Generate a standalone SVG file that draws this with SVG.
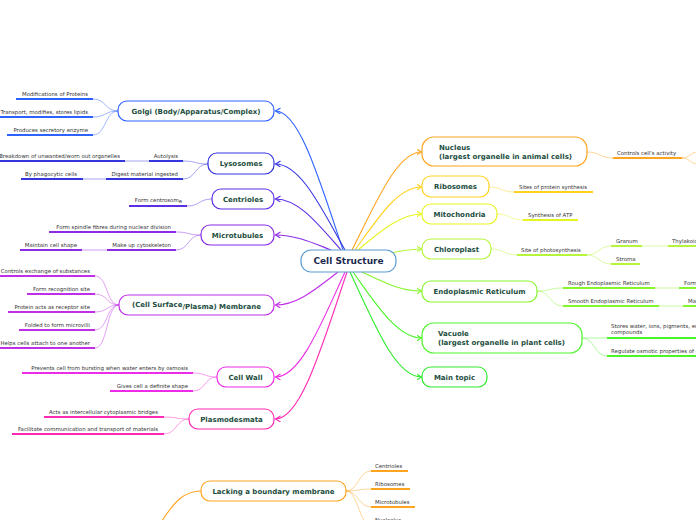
<svg xmlns="http://www.w3.org/2000/svg" width="696" height="520" viewBox="0 0 696 520">
<style>
.bg{fill:#fff}
.nd{fill:#fff;stroke-width:1.2}
.t{font-family:"DejaVu Sans",Verdana,sans-serif;font-weight:bold;font-size:7px;fill:#1b4d3e;text-anchor:middle}
.tl{font-family:"DejaVu Sans",Verdana,sans-serif;font-weight:bold;font-size:7px;fill:#1b4d3e}
.s{font-family:"DejaVu Sans",Verdana,sans-serif;font-size:5.4px;fill:#333}
.e{text-anchor:end}
.u{stroke-width:2;fill:none}
.c{fill:none;stroke-width:1.1}
.lc{fill:none;stroke-width:1;stroke-opacity:.45}
</style>
<defs>
<marker id="a1" markerUnits="userSpaceOnUse" markerWidth="8" markerHeight="8" refX="5" refY="3" orient="auto"><path d="M0,0 L5,3 L0,6" fill="none" stroke="#2d62ff" stroke-width="1.1"/></marker>
<marker id="a2" markerUnits="userSpaceOnUse" markerWidth="8" markerHeight="8" refX="5" refY="3" orient="auto"><path d="M0,0 L5,3 L0,6" fill="none" stroke="#3535e0" stroke-width="1.1"/></marker>
<marker id="a3" markerUnits="userSpaceOnUse" markerWidth="8" markerHeight="8" refX="5" refY="3" orient="auto"><path d="M0,0 L5,3 L0,6" fill="none" stroke="#5c2ee6" stroke-width="1.1"/></marker>
<marker id="a4" markerUnits="userSpaceOnUse" markerWidth="8" markerHeight="8" refX="5" refY="3" orient="auto"><path d="M0,0 L5,3 L0,6" fill="none" stroke="#8a2be6" stroke-width="1.1"/></marker>
<marker id="a5" markerUnits="userSpaceOnUse" markerWidth="8" markerHeight="8" refX="5" refY="3" orient="auto"><path d="M0,0 L5,3 L0,6" fill="none" stroke="#c02ee8" stroke-width="1.1"/></marker>
<marker id="a6" markerUnits="userSpaceOnUse" markerWidth="8" markerHeight="8" refX="5" refY="3" orient="auto"><path d="M0,0 L5,3 L0,6" fill="none" stroke="#ee2be6" stroke-width="1.1"/></marker>
<marker id="a7" markerUnits="userSpaceOnUse" markerWidth="8" markerHeight="8" refX="5" refY="3" orient="auto"><path d="M0,0 L5,3 L0,6" fill="none" stroke="#ff2bb4" stroke-width="1.1"/></marker>
<marker id="a8" markerUnits="userSpaceOnUse" markerWidth="8" markerHeight="8" refX="5" refY="3" orient="auto"><path d="M0,0 L5,3 L0,6" fill="none" stroke="#ffa41f" stroke-width="1.1"/></marker>
<marker id="a9" markerUnits="userSpaceOnUse" markerWidth="8" markerHeight="8" refX="5" refY="3" orient="auto"><path d="M0,0 L5,3 L0,6" fill="none" stroke="#ffd21f" stroke-width="1.1"/></marker>
<marker id="a10" markerUnits="userSpaceOnUse" markerWidth="8" markerHeight="8" refX="5" refY="3" orient="auto"><path d="M0,0 L5,3 L0,6" fill="none" stroke="#e6f51f" stroke-width="1.1"/></marker>
<marker id="a11" markerUnits="userSpaceOnUse" markerWidth="8" markerHeight="8" refX="5" refY="3" orient="auto"><path d="M0,0 L5,3 L0,6" fill="none" stroke="#b6f53a" stroke-width="1.1"/></marker>
<marker id="a12" markerUnits="userSpaceOnUse" markerWidth="8" markerHeight="8" refX="5" refY="3" orient="auto"><path d="M0,0 L5,3 L0,6" fill="none" stroke="#86f52a" stroke-width="1.1"/></marker>
<marker id="a13" markerUnits="userSpaceOnUse" markerWidth="8" markerHeight="8" refX="5" refY="3" orient="auto"><path d="M0,0 L5,3 L0,6" fill="none" stroke="#4cf52a" stroke-width="1.1"/></marker>
<marker id="a14" markerUnits="userSpaceOnUse" markerWidth="8" markerHeight="8" refX="5" refY="3" orient="auto"><path d="M0,0 L5,3 L0,6" fill="none" stroke="#2eea2e" stroke-width="1.1"/></marker>
</defs>
<rect class="bg" x="0" y="0" width="696" height="520"/>

<g id="connectors">
<!-- main branches -->
<path class="c" stroke="#2d62ff" marker-end="url(#a1)" d="M343,250 C319.6,180.5 299.5,111 275.5,111"/>
<path class="c" stroke="#3535e0" marker-end="url(#a2)" d="M345,250 C320.9,207 300.2,164 275.5,164"/>
<path class="c" stroke="#5c2ee6" marker-end="url(#a3)" d="M341,250 C318.3,224.5 298.8,199 275.5,199"/>
<path class="c" stroke="#8a2be6" marker-end="url(#a4)" d="M331,250 C311.8,242.5 295.2,235 275.5,235"/>
<path class="c" stroke="#c02ee8" marker-end="url(#a5)" d="M338,272 C316.3,288.5 297.7,305 275.5,305"/>
<path class="c" stroke="#ee2be6" marker-end="url(#a6)" d="M345,272 C320.9,324.5 300.2,377 275.5,377"/>
<path class="c" stroke="#ff2bb4" marker-end="url(#a7)" d="M347,272 C322.2,345.5 300.9,419 275.5,419"/>
<path class="c" stroke="#ffa41f" marker-end="url(#a8)" d="M352,250 C376.8,201 397.2,152 421.5,152"/>
<path class="c" stroke="#ffd21f" marker-end="url(#a9)" d="M355,250 C377.8,218.5 397.3,187 421.5,187"/>
<path class="c" stroke="#e6f51f" marker-end="url(#a10)" d="M358,250 C379.7,232 400.3,214 421.5,214"/>
<path class="c" stroke="#b6f53a" marker-end="url(#a11)" d="M390,253 C402,251 410,249 421.5,249"/>
<path class="c" stroke="#86f52a" marker-end="url(#a12)" d="M362,272 C382.3,281.5 399.7,291 421.5,291"/>
<path class="c" stroke="#4cf52a" marker-end="url(#a13)" d="M353,272 C376.5,305 397.6,338 421.5,338"/>
<path class="c" stroke="#2eea2e" marker-end="url(#a14)" d="M350,272 C374.5,324.5 395.5,377 421.5,377"/>
<path class="c" stroke="#ffa41f" d="M160,524 C175,500 185,491 201,491"/>
<!-- Golgi subs -->
<path class="lc" stroke="#2d62ff" d="M118,111 C105,111 106,99 93,99"/>
<path class="lc" stroke="#2d62ff" d="M118,111 C105,111 106,117 93,117"/>
<path class="lc" stroke="#2d62ff" d="M118,111 C105,111 106,135 93,135"/>
<!-- Lysosomes subs -->
<path class="lc" stroke="#3535e0" d="M208,164 C195,164 196,161 183,161"/>
<path class="lc" stroke="#3535e0" d="M208,164 C195,164 196,179 183,179"/>
<path class="lc" stroke="#3535e0" d="M149,161 L125,161"/>
<path class="lc" stroke="#3535e0" d="M106,179 L83,179"/>
<!-- Centrioles -->
<path class="lc" stroke="#5c2ee6" d="M212,199 C199,199 200,206 187,206"/>
<!-- Microtubules -->
<path class="lc" stroke="#8a2be6" d="M201,235 C188,235 189,232 176,232"/>
<path class="lc" stroke="#8a2be6" d="M201,235 C188,235 189,250 176,250"/>
<path class="lc" stroke="#8a2be6" d="M107,250 L82,250"/>
<!-- Membrane -->
<path class="lc" stroke="#c02ee8" d="M119,305 C106,305 108,276 95,276"/>
<path class="lc" stroke="#c02ee8" d="M119,305 C106,305 108,294 95,294"/>
<path class="lc" stroke="#c02ee8" d="M119,305 C106,305 108,312 95,312"/>
<path class="lc" stroke="#c02ee8" d="M119,305 C106,305 108,330 95,330"/>
<path class="lc" stroke="#c02ee8" d="M119,305 C106,305 108,348 95,348"/>
<!-- Cell wall -->
<path class="lc" stroke="#ee2be6" d="M217,377 C204,377 206,373 193,373"/>
<path class="lc" stroke="#ee2be6" d="M217,377 C204,377 206,391 193,391"/>
<!-- Plasmodesmata -->
<path class="lc" stroke="#ff2bb4" d="M189,419 C176,419 177,417 164,417"/>
<path class="lc" stroke="#ff2bb4" d="M189,419 C176,419 177,434 164,434"/>
<!-- Nucleus -->
<path class="lc" stroke="#ffa41f" d="M587,152 C600,152 600,158 613,158"/>
<path class="lc" stroke="#ffa41f" d="M682,158 C690,158 690,152 698,152"/>
<path class="lc" stroke="#ffa41f" d="M682,158 C690,158 690,164 698,164"/>
<!-- Ribosomes -->
<path class="lc" stroke="#ffd21f" d="M489,187 C501,187 502,192 514,192"/>
<!-- Mitochondria -->
<path class="lc" stroke="#e6f51f" d="M497,214 C510,214 510,220 523,220"/>
<!-- Chloroplast -->
<path class="lc" stroke="#b6f53a" d="M491,249 C504,249 504,255 517,255"/>
<path class="lc" stroke="#b6f53a" d="M587,255 C599,255 599,246 611,246"/>
<path class="lc" stroke="#b6f53a" d="M587,255 C599,255 599,264 611,264"/>
<path class="lc" stroke="#b6f53a" d="M642,246 L668,246"/>
<!-- ER -->
<path class="lc" stroke="#86f52a" d="M537,291 C550,291 550,288 563,288"/>
<path class="lc" stroke="#86f52a" d="M537,291 C550,291 550,306 563,306"/>
<path class="lc" stroke="#86f52a" d="M655,288 L679,288"/>
<path class="lc" stroke="#86f52a" d="M659,306 L683,306"/>
<!-- Vacuole -->
<path class="lc" stroke="#4cf52a" d="M582,338 L607,338"/>
<path class="lc" stroke="#4cf52a" d="M582,338 C595,338 594,356 607,356"/>
<!-- Lacking -->
<path class="lc" stroke="#ffa41f" d="M346,491 C358,491 359,471 371,471"/>
<path class="lc" stroke="#ffa41f" d="M346,491 C358,491 359,489 371,489"/>
<path class="lc" stroke="#ffa41f" d="M346,491 C358,491 359,507 371,507"/>
<path class="lc" stroke="#ffa41f" d="M346,491 C358,491 359,525 371,525"/>
</g>

<g id="cell-structure">
<rect x="301" y="250" width="95" height="22" rx="10" fill="#fff" stroke="#5b9bd5" stroke-width="1.2"/>
<text x="348.5" y="264.3" font-family="DejaVu Sans, Verdana, sans-serif" font-weight="bold" font-size="9" fill="#1c2b4f" text-anchor="middle">Cell Structure</text>
</g>

<g id="golgi">
<rect class="nd" x="118" y="101" width="156" height="20" rx="9" stroke="#2d62ff"/>
<text class="t" x="196" y="113.5">Golgi (Body/Apparatus/Complex)</text>
</g>
<g id="golgi-1"><line class="u" stroke="#2d62ff" x1="16" y1="99" x2="93" y2="99"/><text class="s e" x="88" y="95.5">Modifications of Proteins</text></g>
<g id="golgi-2"><line class="u" stroke="#2d62ff" x1="0" y1="117" x2="93" y2="117"/><text class="s e" x="88" y="113.5">Transport, modifies, stores lipids</text></g>
<g id="golgi-3"><line class="u" stroke="#2d62ff" x1="7" y1="135" x2="93" y2="135"/><text class="s e" x="88" y="131.5">Produces secretory enzyme</text></g>

<g id="lysosomes">
<rect class="nd" x="208" y="153" width="66" height="21" rx="9" stroke="#3535e0"/>
<text class="t" x="241" y="166">Lysosomes</text>
</g>
<g id="lyso-1"><line class="u" stroke="#3535e0" x1="149" y1="161" x2="183" y2="161"/><text class="s e" x="178" y="157.5">Autolysis</text></g>
<g id="lyso-1-1"><line class="u" stroke="#3535e0" x1="0" y1="161" x2="125" y2="161"/><text class="s e" x="120" y="157.5">Breakdown of unwanted/worn out organelles</text></g>
<g id="lyso-2"><line class="u" stroke="#3535e0" x1="106" y1="179" x2="183" y2="179"/><text class="s e" x="178" y="175.5">Digest material ingested</text></g>
<g id="lyso-2-1"><line class="u" stroke="#3535e0" x1="21" y1="179" x2="83" y2="179"/><text class="s e" x="77" y="175.5">By phagocytic cells</text></g>

<g id="centrioles">
<rect class="nd" x="212" y="189" width="62" height="20" rx="9" stroke="#5c2ee6"/>
<text class="t" x="243" y="201.5">Centrioles</text>
</g>
<g id="centrioles-1"><line class="u" stroke="#5c2ee6" x1="129" y1="206" x2="187" y2="206"/><text class="s e" x="182" y="201.5">Form centrosom<tspan dy="1.5">e</tspan></text></g>

<g id="microtubules">
<rect class="nd" x="201" y="225" width="73" height="20" rx="9" stroke="#8a2be6"/>
<text class="t" x="237.5" y="237.5">Microtubules</text>
</g>
<g id="micro-1"><line class="u" stroke="#8a2be6" x1="49" y1="232" x2="176" y2="232"/><text class="s e" x="171" y="228.5">Form spindle fibres during nuclear division</text></g>
<g id="micro-2"><line class="u" stroke="#8a2be6" x1="107" y1="250" x2="176" y2="250"/><text class="s e" x="171" y="246.5">Make up cytoskeleton</text></g>
<g id="micro-2-1"><line class="u" stroke="#8a2be6" x1="20" y1="250" x2="82" y2="250"/><text class="s e" x="77" y="246.5">Maintain cell shape</text></g>

<g id="membrane">
<rect class="nd" x="119" y="295" width="155" height="20" rx="9" stroke="#c02ee8"/>
<text class="t" x="196.5" y="307">(Cell Surface<tspan dy="1.5">/Plasma) Membrane</tspan></text>
</g>
<g id="mem-1"><line class="u" stroke="#c02ee8" x1="0" y1="276" x2="95" y2="276"/><text class="s e" x="90" y="272.5">Controls exchange of substances</text></g>
<g id="mem-2"><line class="u" stroke="#c02ee8" x1="27" y1="294" x2="95" y2="294"/><text class="s e" x="90" y="290.5">Form recognition site</text></g>
<g id="mem-3"><line class="u" stroke="#c02ee8" x1="8" y1="312" x2="95" y2="312"/><text class="s e" x="90" y="308.5">Protein acts as receptor site</text></g>
<g id="mem-4"><line class="u" stroke="#c02ee8" x1="19" y1="330" x2="95" y2="330"/><text class="s e" x="90" y="326.5">Folded to form microvilli</text></g>
<g id="mem-5"><line class="u" stroke="#c02ee8" x1="0" y1="348" x2="95" y2="348"/><text class="s e" x="90" y="344.5">Helps cells attach to one another</text></g>

<g id="cell-wall">
<rect class="nd" x="217" y="367" width="57" height="20" rx="9" stroke="#ee2be6"/>
<text class="t" x="245.5" y="379.5">Cell Wall</text>
</g>
<g id="wall-1"><line class="u" stroke="#ee2be6" x1="22" y1="373" x2="193" y2="373"/><text class="s e" x="188" y="369.5">Prevents cell from bursting when water enters by osmosis</text></g>
<g id="wall-2"><line class="u" stroke="#ee2be6" x1="110" y1="391" x2="193" y2="391"/><text class="s e" x="188" y="387.5">Gives cell a definite shape</text></g>

<g id="plasmodesmata">
<rect class="nd" x="189" y="409" width="85" height="20" rx="9" stroke="#ff2bb4"/>
<text class="t" x="231.5" y="421.5">Plasmodesmata</text>
</g>
<g id="plasmo-1"><line class="u" stroke="#ff2bb4" x1="44" y1="417" x2="164" y2="417"/><text class="s e" x="158" y="413.5">Acts as intercellular cytoplasmic bridges</text></g>
<g id="plasmo-2"><line class="u" stroke="#ff2bb4" x1="12" y1="434" x2="164" y2="434"/><text class="s e" x="158" y="430.5">Facilitate communication and transport of materials</text></g>

<g id="nucleus">
<rect class="nd" x="422" y="137" width="165" height="29" rx="12" stroke="#ffa41f"/>
<text class="tl" x="439" y="150">Nucleus</text>
<text class="tl" x="439" y="158.5">(largest organelle in animal cells)</text>
</g>
<g id="nucleus-1"><line class="u" stroke="#ffa41f" x1="613" y1="158" x2="682" y2="158"/><text class="s" x="617" y="154.5">Controls cell's activity</text></g>

<g id="ribosomes">
<rect class="nd" x="422" y="176" width="67" height="21" rx="9" stroke="#ffd21f"/>
<text class="t" x="455.5" y="189">Ribosomes</text>
</g>
<g id="ribo-1"><line class="u" stroke="#ffd21f" x1="514" y1="192" x2="593" y2="192"/><text class="s" x="519" y="188.5">Sites of protein synthesis</text></g>

<g id="mitochondria">
<rect class="nd" x="422" y="204" width="75" height="20" rx="9" stroke="#e6f51f"/>
<text class="t" x="459.5" y="216.5">Mitochondria</text>
</g>
<g id="mito-1"><line class="u" stroke="#e6f51f" x1="523" y1="220" x2="578" y2="220"/><text class="s" x="528" y="216.5">Synthesis of ATP</text></g>

<g id="chloroplast">
<rect class="nd" x="422" y="239" width="69" height="20" rx="9" stroke="#b6f53a"/>
<text class="t" x="456.5" y="251.5">Chloroplast</text>
</g>
<g id="chloro-1"><line class="u" stroke="#b6f53a" x1="517" y1="255" x2="587" y2="255"/><text class="s" x="521" y="251.5">Site of photosynthesis</text></g>
<g id="chloro-1-1"><line class="u" stroke="#b6f53a" x1="611" y1="246" x2="642" y2="246"/><text class="s" x="616" y="242.5">Granum</text></g>
<g id="chloro-1-1-1"><line class="u" stroke="#b6f53a" x1="668" y1="246" x2="700" y2="246"/><text class="s" x="672" y="242.5">Thylakoids</text></g>
<g id="chloro-1-2"><line class="u" stroke="#b6f53a" x1="611" y1="264" x2="640" y2="264"/><text class="s" x="616" y="260.5">Stroma</text></g>

<g id="er">
<rect class="nd" x="422" y="281" width="115" height="21" rx="9" stroke="#86f52a"/>
<text class="t" x="479.5" y="294">Endoplasmic Reticulum</text>
</g>
<g id="er-1"><line class="u" stroke="#86f52a" x1="563" y1="288" x2="655" y2="288"/><text class="s" x="568" y="284.5">Rough Endoplasmic Reticulum</text></g>
<g id="er-1-1"><line class="u" stroke="#86f52a" x1="679" y1="288" x2="700" y2="288"/><text class="s" x="684" y="284.5">Form</text></g>
<g id="er-2"><line class="u" stroke="#86f52a" x1="563" y1="306" x2="659" y2="306"/><text class="s" x="568" y="302.5">Smooth Endoplasmic Reticulum</text></g>
<g id="er-2-1"><line class="u" stroke="#86f52a" x1="683" y1="306" x2="700" y2="306"/><text class="s" x="688" y="302.5">Make</text></g>

<g id="vacuole">
<rect class="nd" x="422" y="323" width="160" height="30" rx="12" stroke="#4cf52a"/>
<text class="tl" x="438" y="336">Vacuole</text>
<text class="tl" x="438" y="344.5">(largest organelle in plant cells)</text>
</g>
<g id="vac-1"><line class="u" stroke="#4cf52a" x1="607" y1="338" x2="700" y2="338"/><text class="s" x="611" y="328">Stores water, ions, pigments, enzymes</text><text class="s" x="611" y="334.3">compounds</text></g>
<g id="vac-2"><line class="u" stroke="#4cf52a" x1="607" y1="356" x2="700" y2="356"/><text class="s" x="611" y="352.5">Regulate osmotic properties of cells</text></g>

<g id="main-topic">
<rect class="nd" x="422" y="367" width="65" height="20" rx="9" stroke="#2eea2e"/>
<text class="t" x="454.5" y="379.5">Main topic</text>
</g>

<g id="lacking">
<rect class="nd" x="201" y="481" width="145" height="20" rx="9" stroke="#ffa41f"/>
<text class="t" x="273.5" y="493.5">Lacking a boundary membrane</text>
</g>
<g id="lack-1"><line class="u" stroke="#ffa41f" x1="371" y1="471" x2="408" y2="471"/><text class="s" x="375" y="467.5">Centrioles</text></g>
<g id="lack-2"><line class="u" stroke="#ffa41f" x1="371" y1="489" x2="410" y2="489"/><text class="s" x="375" y="485.5">Ribosomes</text></g>
<g id="lack-3"><line class="u" stroke="#ffa41f" x1="371" y1="507" x2="415" y2="507"/><text class="s" x="375" y="503.5">Microtubules</text></g>
<g id="lack-4"><line class="u" stroke="#ffa41f" x1="371" y1="525" x2="405" y2="525"/><text class="s" x="375" y="521.5">Nucleolus</text></g>
</svg>
